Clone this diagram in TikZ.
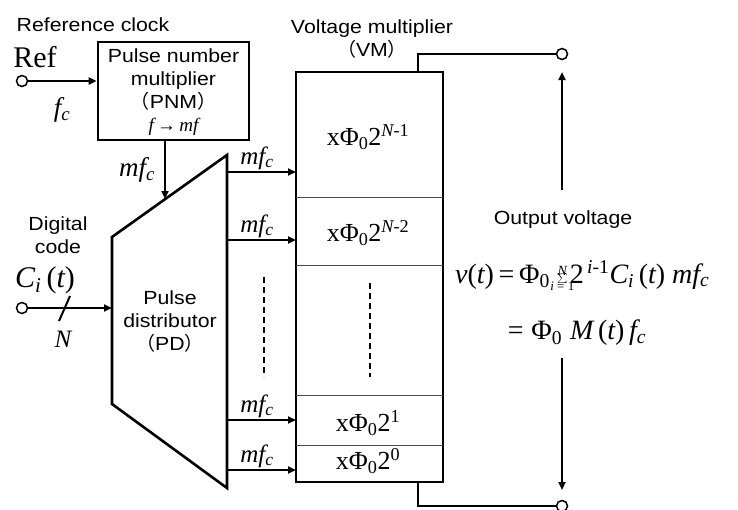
\documentclass[tikz,border=0pt]{standalone}
\usepackage{fontspec}
\setmainfont{Liberation Sans}[FakeStretch=1.12]
\newfontfamily\tm{Liberation Serif}
\newfontfamily\cjk{Noto Sans CJK JP}
\usetikzlibrary{arrows.meta}
\newcommand\vi[1]{{\itshape #1}}
\newcommand\lp{{\cjk （}}
\newcommand\rp{{\cjk ）}}
\newcommand\Sig{$\textstyle\sum$}
\newcommand\Ph{\symbol{"03A6}}
\begin{document}
\begin{tikzpicture}[x=1pt,y=-1pt,
  lab/.style={font=\fontsize{19}{23}\selectfont, inner sep=0, align=center},
  mth/.style={font=\tm\fontsize{26}{26}\selectfont, inner sep=0},
  eqf/.style={font=\tm\fontsize{28}{28}\selectfont, inner sep=0},
  lim/.style={font=\tm\itshape\fontsize{14}{14}\selectfont, inner sep=0},
  box/.style={draw, line width=2.6pt},
  arr/.style={line width=2pt, -{Triangle[length=8pt,width=7pt]}},
  wire/.style={line width=2pt},
  term/.style={circle, draw, fill=white, line width=1.5pt, minimum size=11pt, inner sep=0},
  sep/.style={line width=0.9pt, draw=black!70},
  dsh/.style={line width=2.2pt, dash pattern=on 6pt off 4pt}]
\useasboundingbox (0,0) rectangle (738,509);

% Reference clock
\node[lab] (refclk) at (93,25) {Reference clock};
\node[mth, font=\tm\fontsize{30}{30}\selectfont] (ref) at (35,57) {Ref};
\node[term] (refin) at (22,81) {};
\node[box, minimum width=151pt, minimum height=98pt, inner sep=0] (pnm) at (173.5,91) {};
\draw[arr] (refin) -- (refin -| pnm.west);
\node[mth, font=\tm\itshape\fontsize{27}{27}\selectfont] (fc) at (62,110) {f\textsubscript{c}};
\node[lab] (pnmtxt) at (173.5,80) {Pulse number\\multiplier\\\lp PNM\rp};
\node[mth, font=\tm\fontsize{19}{19}\selectfont] (fmf) at (173.5,127) {\vi{f}\,→\,\vi{mf}};

% Pulse distributor
\coordinate (pdTL) at (112,237);
\coordinate (pdTR) at (227,155);
\coordinate (pdBR) at (227,488);
\coordinate (pdBL) at (112,404);
\draw[box, line join=miter] (pdTL) -- (pdTR) -- (pdBR) -- (pdBL) -- cycle;
\node[lab] (pdtxt) at (170,322) {Pulse\\distributor\\\lp PD\rp};
\coordinate (pnmout) at (165,140);
\coordinate (pdin) at (165,199);
\draw[arr] (pnmout) -- (pdin);
\node[mth, font=\tm\itshape\fontsize{27}{27}\selectfont] (mfa) at (137,170) {mf\textsubscript{c}};

% Digital code
\node[lab] (dig) at (58,235) {Digital\\code};
\node[mth, font=\tm\fontsize{30}{30}\selectfont] (ci) at (45,280) {\vi{C}\textsubscript{\vi{i}}\,(\vi{t})};
\node[term] (codein) at (22,308) {};
\coordinate (pdcode) at (112,308);
\draw[arr] (codein) -- (pdcode);
\coordinate (slA) at (59,321);
\coordinate (slB) at (70,296);
\draw[wire] (slA) -- (slB);
\node[mth, font=\tm\itshape\fontsize{25}{25}\selectfont] (nn) at (63,339) {N};

% Voltage multiplier
\node[box, minimum width=147pt, minimum height=410pt, inner sep=0] (vm) at (369.5,277) {};
\node[lab] (vmtxt) at (372,39) {Voltage multiplier\\\lp VM\rp};
\coordinate (s1L) at (296,197); \coordinate (s1R) at (443,197);
\coordinate (s2L) at (296,265); \coordinate (s2R) at (443,265);
\coordinate (s3L) at (296,395); \coordinate (s3R) at (443,395);
\coordinate (s4L) at (296,445); \coordinate (s4R) at (443,445);
\draw[sep] (s1L) -- (s1R);
\draw[sep] (s2L) -- (s2R);
\draw[sep] (s3L) -- (s3R);
\draw[sep] (s4L) -- (s4R);
\node[mth] (vm1) at (368,137) {x\Ph\textsubscript{0}2\textsuperscript{\vi{N}-1}};
\node[mth] (vm2) at (368,233) {x\Ph\textsubscript{0}2\textsuperscript{\vi{N}-2}};
\node[mth] (vm3) at (368,423) {x\Ph\textsubscript{0}2\textsuperscript{1}};
\node[mth] (vm4) at (368,461) {x\Ph\textsubscript{0}2\textsuperscript{0}};
\coordinate (d2a) at (370,283); \coordinate (d2b) at (370,377);
\draw[dsh] (d2a) -- (d2b);

% PD outputs
\foreach \yy/\nm in {172/o1,240/o2,420/o3,470/o4}{
  \coordinate (\nm a) at (227,\yy);
  \coordinate (\nm b) at (296,\yy);
  \draw[arr] (\nm a) -- (\nm b);
  \node[mth, font=\tm\itshape\fontsize{25}{25}\selectfont] (\nm l) at (257,\yy-14) {mf\textsubscript{c}};
}
\coordinate (d1a) at (264,277); \coordinate (d1b) at (264,377);
\draw[dsh] (d1a) -- (d1b);

% Output terminals
\node[term] (outt) at (562,54) {};
\node[term] (outb) at (562,506) {};
\coordinate (vmt) at (418,72);
\coordinate (vmb) at (418,482);
\draw[wire] (vmt) |- (outt);
\draw[wire] (vmb) |- (outb);
\coordinate (upa) at (562,190); \coordinate (upb) at (562,72);
\coordinate (dna) at (562,358); \coordinate (dnb) at (562,490);
\draw[arr] (upa) -- (upb);
\draw[arr] (dna) -- (dnb);

\node[lab] (ovtxt) at (563,220) {Output voltage};
\node[eqf, anchor=base west] (eqA) at (455,283) {\vi{v}(\vi{t})\,=\,\Ph\textsubscript{0}\,};
\node[inner sep=0, anchor=base west, font=\fontsize{17}{17}\selectfont] (sig) at ([xshift=2pt]eqA.base east) {\Sig};
\node[lim, anchor=south] (sigN) at ([yshift=-2pt]sig.north) {N};
\node[lim, anchor=north, font=\tm\fontsize{13}{13}\selectfont] (sigI) at ([yshift=2pt]sig.south) {\vi{i} = 1};
\node[eqf, anchor=base west] (eqB) at ([xshift=2pt]sig.base east) {2\textsuperscript{\,\vi{i}-1}\vi{C}\textsubscript{\vi{i}}\,(\vi{t})\ \vi{mf}\textsubscript{\vi{c}}};
\node[eqf] (eq2) at (577,333) {=\;\Ph\textsubscript{0}\;\vi{M}\,(\vi{t})\,\vi{f}\textsubscript{\vi{c}}};
\end{tikzpicture}
\end{document}
